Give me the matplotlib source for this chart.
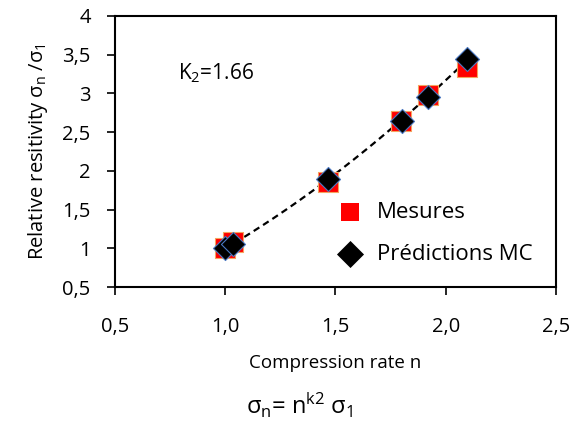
import numpy as np
import matplotlib
matplotlib.use("Agg")
import matplotlib.pyplot as plt
from matplotlib.ticker import FuncFormatter

plt.rcParams['font.family'] = ['Open Sans', 'DejaVu Sans']
plt.rcParams['mathtext.fontset'] = 'custom'
plt.rcParams['mathtext.rm'] = 'Open Sans'
plt.rcParams['mathtext.it'] = 'Open Sans'

n_mes = [1.00, 1.035, 1.466, 1.796, 1.918, 2.098]
sig_mes = [1.00, 1.08, 1.86, 2.65, 2.98, 3.34]
n_pred = [1.00, 1.037, 1.467, 1.80, 1.918, 2.098]
sig_pred = [1.00, 1.06, 1.89, 2.65, 2.96, 3.44]
xticks = [0.5, 1.0, 1.5, 2.0, 2.5]
yticks = [0.5, 1, 1.5, 2, 2.5, 3, 3.5, 4]

fig = plt.figure(figsize=(5.71, 4.24), dpi=100)
ax = fig.add_axes([0.2014, 0.3231, 0.7723, 0.6392])

# power-law trendline fitted to predictions
k, c = np.polyfit(np.log(n_pred), np.log(sig_pred), 1)
xx = np.linspace(min(n_pred), max(n_pred), 200)
ax.plot(xx, np.exp(c) * xx ** k, ls=(0, (3, 2)), color='black', lw=1.6, zorder=2)

ax.scatter(n_mes, sig_mes, marker='s', s=190, color='#ff0000', edgecolors='#f4a460',
           linewidths=0.8, zorder=3, label='Mesures')
ax.scatter(n_pred, sig_pred, marker='D', s=150, color='black', edgecolors='#4a78c2',
           linewidths=0.8, zorder=4, label='Prédictions MC')

ax.set_xlim(0.5, 2.5)
ax.set_ylim(0.5, 4)
ax.set_xticks(xticks)
ax.set_yticks(yticks)
ax.xaxis.set_major_formatter(FuncFormatter(lambda v, p: f"{v:.1f}".replace('.', ',')))
ax.yaxis.set_major_formatter(FuncFormatter(lambda v, p: (f"{v:g}").replace('.', ',')))
ax.tick_params(direction='out', length=6, width=1.2, labelsize=14.5)
ax.tick_params(axis='x', pad=15.5)
ax.tick_params(axis='y', pad=11.5)
for s in ax.spines.values():
    s.set_linewidth(1.5)

ax.set_xlabel('Compression rate n', fontsize=13.5, labelpad=12)
ax.set_ylabel(r'Relative resitivity σ$_\mathrm{n}$ /σ$_\mathrm{1}$', fontsize=14.5, labelpad=9)

ax.text(0.786, 3.26, r'K$_\mathrm{2}$=1.66', fontsize=15, va='center', ha='left')

leg = ax.legend(loc='upper left', frameon=False, fontsize=16, handletextpad=0.7,
                handlelength=1.0, borderpad=0, borderaxespad=0,
                labelspacing=0.97, bbox_to_anchor=(0.508, 0.315))
leg.legend_handles[0].set_sizes([150])
leg.legend_handles[0].set_linewidths([0])
leg.legend_handles[1].set_sizes([190])
leg.legend_handles[1].set_linewidths([0])

fig.text(0.525, 0.045, r'σ$_\mathrm{n}$= n$^\mathrm{k2}$ σ$_\mathrm{1}$', fontsize=17,
         ha='center', va='center')

fig.savefig('out.png', dpi=100)
